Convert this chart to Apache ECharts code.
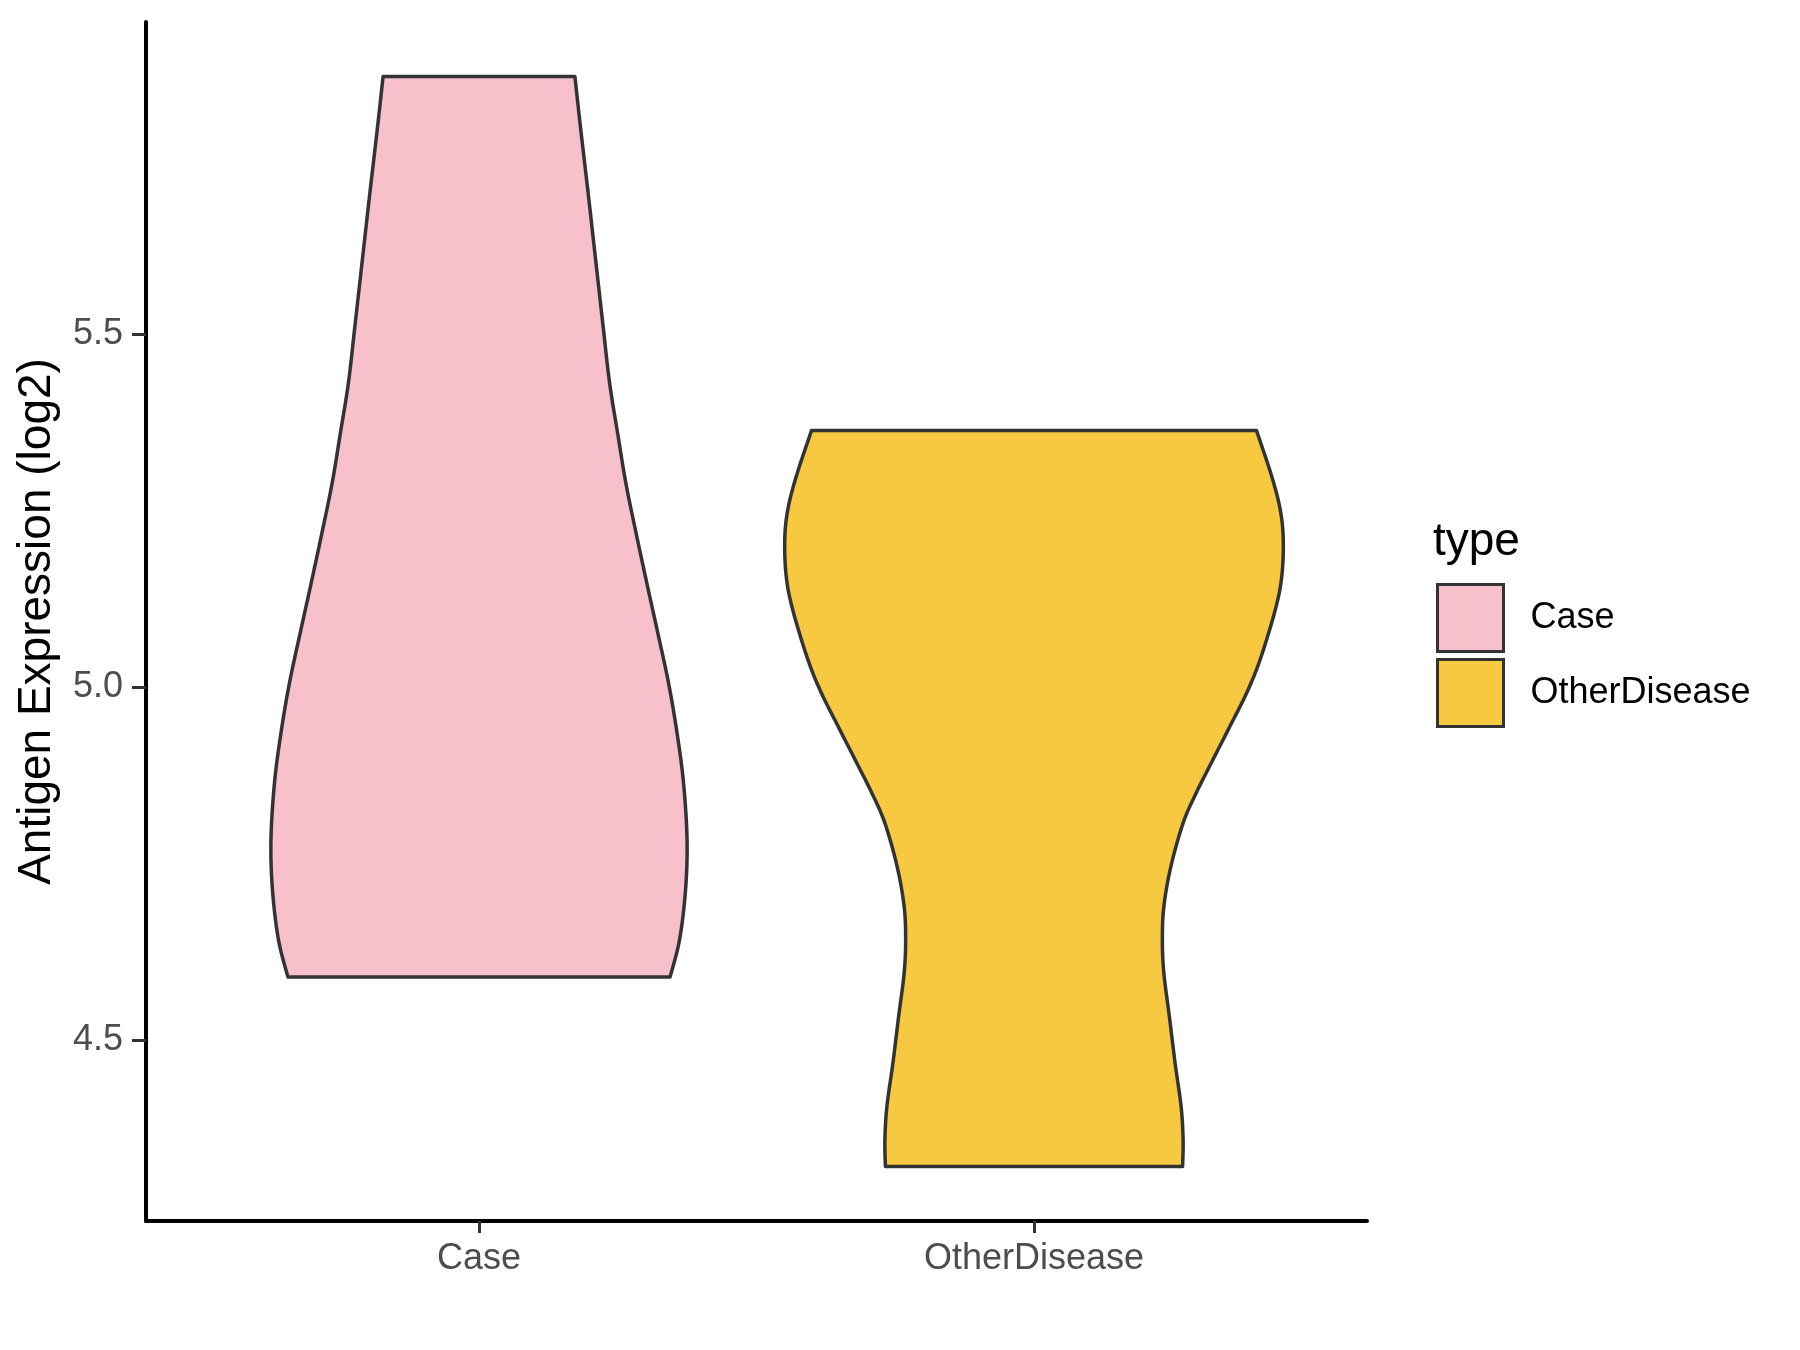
<!DOCTYPE html>
<html>
<head>
<meta charset="utf-8">
<script src="https://cdn.jsdelivr.net/npm/echarts@6/dist/echarts.min.js"></script>
<style>
html,body{margin:0;padding:0;background:#fff;}
#chart{width:1800px;height:1350px;}
</style>
</head>
<body>
<div id="chart"></div>
<script>
// ---- data ----
const categories = ['Case', 'OtherDisease'];
const fillColors = ['#F7C0CB', '#F6C940'];
const yTicks = [4.5, 5.0, 5.5];

// Case violin outline: y value (top -> bottom) and relative half-width (1 = full violin width)
const caseY = [5.8646, 5.7938, 5.6994, 5.6050, 5.5105, 5.4303, 5.3595, 5.2887, 5.2178, 5.1470, 5.0762, 5.0054, 4.9346, 4.8637, 4.7834, 4.7126, 4.6418, 4.5890];
const caseW = [0.384, 0.406, 0.437, 0.467, 0.497, 0.523, 0.555, 0.588, 0.629, 0.672, 0.716, 0.759, 0.793, 0.819, 0.833, 0.827, 0.803, 0.765];

// OtherDisease violin outline
const odY = [5.3630, 5.2980, 5.2507, 5.2082, 5.1562, 5.1091, 5.0382, 4.9911, 4.9438, 4.8966, 4.8494, 4.8070, 4.7455, 4.6889, 4.6416, 4.5945, 4.5331, 4.4671, 4.4057, 4.3584, 4.3207];
const odW = [0.891, 0.952, 0.986, 0.998, 0.992, 0.966, 0.905, 0.851, 0.784, 0.716, 0.649, 0.597, 0.548, 0.520, 0.514, 0.520, 0.542, 0.565, 0.589, 0.597, 0.595];

const yMin = 4.2435, yMax = 5.9417;
const FONT = "'Liberation Sans', Arial, sans-serif";

function spline(pts, n) {
  const out = [];
  for (let i = 0; i < pts.length - 1; i++) {
    const p0 = pts[Math.max(i - 1, 0)], p1 = pts[i], p2 = pts[i + 1], p3 = pts[Math.min(i + 2, pts.length - 1)];
    for (let k = 0; k < n; k++) {
      const t = k / n, t2 = t * t, t3 = t2 * t;
      const f = (a, b, c, d) => 0.5 * (2 * b + (-a + c) * t + (2 * a - 5 * b + 4 * c - d) * t2 + (-a + 3 * b - 3 * c + d) * t3);
      out.push([f(p0[0], p1[0], p2[0], p3[0]), f(p0[1], p1[1], p2[1], p3[1])]);
    }
  }
  out.push(pts[pts.length - 1]);
  return out;
}

function violinRenderer(ys, ws, color) {
  return function (params, api) {
    const c = api.value(0);
    const right = ys.map((y, i) => api.coord([c + 0.45 * ws[i], y]));
    const left = ys.map((y, i) => api.coord([c - 0.45 * ws[i], y]));
    const r = spline(right, 12);
    const l = spline(left, 12).reverse();
    return {
      type: 'polygon',
      shape: { points: r.concat(l) },
      style: { fill: color, stroke: '#333333', lineWidth: 3.5, lineJoin: 'round' }
    };
  };
}

const chart = echarts.init(document.getElementById('chart'));
chart.setOption({
  animation: false,
  backgroundColor: '#ffffff',
  grid: { left: 146, right: 433, top: 22, bottom: 129, containLabel: false },
  title: {
    text: 'type', left: 1428, top: 514,
    textStyle: { fontFamily: FONT, fontSize: 46, fontWeight: 'normal', color: '#000000' }
  },
  legend: {
    orient: 'vertical', left: 1431, top: 578,
    itemWidth: 66, itemHeight: 67, itemGap: 5,
    icon: 'rect',
    selectedMode: false,
    data: categories,
    itemStyle: { borderColor: '#333333', borderWidth: 3 },
    textStyle: { fontFamily: FONT, fontSize: 36, color: '#000000', padding: [0, 0, 0, 22] }
  },
  xAxis: {
    type: 'value', min: 0.4, max: 2.6,
    splitLine: { show: false },
    axisLine: { show: true, onZero: false, lineStyle: { color: '#000000', width: 4 } },
    axisTick: { show: true, customValues: [1, 2], length: 12, lineStyle: { color: '#333333', width: 3 } },
    axisLabel: {
      customValues: [1, 2], formatter: v => categories[Math.round(v) - 1],
      margin: 20, fontFamily: FONT, fontSize: 36, color: '#4D4D4D'
    }
  },
  yAxis: {
    type: 'value', min: yMin, max: yMax,
    name: 'Antigen Expression (log2)', nameLocation: 'middle', nameGap: 86,
    nameTextStyle: { fontFamily: FONT, fontSize: 46, color: '#000000' },
    splitLine: { show: false },
    axisLine: { show: true, onZero: false, lineStyle: { color: '#000000', width: 4 } },
    axisTick: { show: true, customValues: yTicks, length: 14, lineStyle: { color: '#333333', width: 3 } },
    axisLabel: {
      customValues: yTicks, formatter: v => v.toFixed(1),
      margin: 23, fontFamily: FONT, fontSize: 36, color: '#4D4D4D'
    }
  },
  series: [
    {
      name: categories[0], type: 'custom',
      itemStyle: { color: fillColors[0] },
      encode: { x: 0, y: 1 },
      data: [[1, 5]],
      renderItem: violinRenderer(caseY, caseW, fillColors[0])
    },
    {
      name: categories[1], type: 'custom',
      itemStyle: { color: fillColors[1] },
      encode: { x: 0, y: 1 },
      data: [[2, 5]],
      renderItem: violinRenderer(odY, odW, fillColors[1])
    }
  ]
});
</script>
</body>
</html>
